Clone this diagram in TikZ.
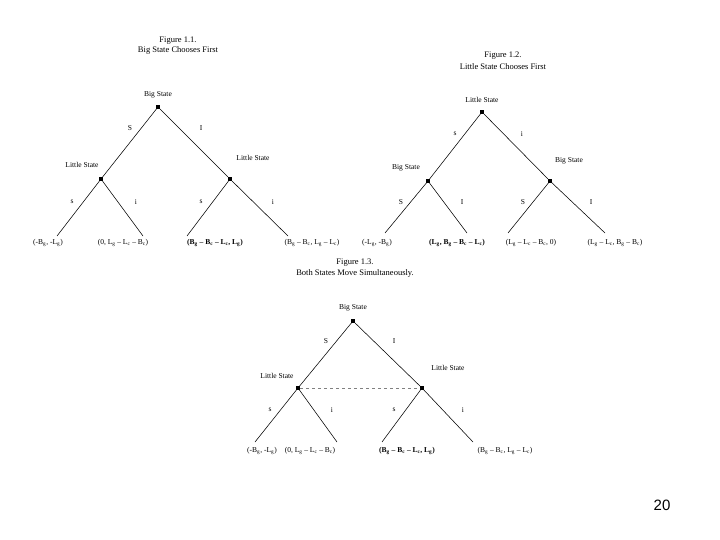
\documentclass[tikz,border=0pt]{standalone}
\usepackage{fontspec}
\setmainfont{Liberation Serif}
\newfontfamily\pagenumfont{Liberation Sans}
\begin{document}
\begin{tikzpicture}[x=1pt,y=-1pt,
  dec/.style={rectangle,fill=black,minimum size=3.6pt,inner sep=0pt},
  txt/.style={font=\fontsize{7.5}{8.5}\selectfont,inner sep=0pt},
  ttl/.style={font=\fontsize{8.5}{9.5}\selectfont,inner sep=0pt},
  pay/.style={font=\fontsize{7.5}{8.5}\selectfont,inner sep=0pt},
  bpay/.style={font=\fontsize{7.5}{8.5}\selectfont\bfseries,inner sep=0pt},
  br/.style={line width=0.55pt},
  info/.style={gray,dashed,line width=0.5pt}]
\useasboundingbox (0,0) rectangle (720,540);
\fill[white] (0,0) rectangle (720,540);
\newcommand{\sbs}[1]{\textsubscript{#1}}

% ---------------- Figure 1.1 ----------------
\node[ttl] (t1a) at (178,41) {Figure 1.1.};
\node[ttl] (t1b) at (178,50) {Big State Chooses First};
\node[dec] (r1) at (158,107) {};
\node[txt] (r1l) at (158,95) {Big State};
\node[dec] (a1) at (101,179) {};
\node[dec] (b1) at (230,179) {};
\node[txt] (a1l) at (82,165) {Little State};
\node[txt] (b1l) at (253,158) {Little State};
\coordinate (l1a) at (57,236);
\coordinate (l1b) at (143,236);
\coordinate (l1c) at (187,236);
\coordinate (l1d) at (288,236);
\draw[br] (r1) -- (a1);
\draw[br] (r1) -- (b1);
\draw[br] (a1) -- (l1a);
\draw[br] (a1) -- (l1b);
\draw[br] (b1) -- (l1c);
\draw[br] (b1) -- (l1d);
\node[txt] (e1a) at (130,128) {S};
\node[txt] (e1b) at (201,128) {I};
\node[txt] (e1c) at (72,202) {s};
\node[txt] (e1d) at (136,202) {i};
\node[txt] (e1e) at (201,202) {s};
\node[txt] (e1f) at (273,202) {i};
\node[pay] (p1a) at (48,243) {(-B\sbs{g}, -L\sbs{g})};
\node[pay] (p1b) at (123,243) {(0, L\sbs{g} – L\sbs{c} – B\sbs{c})};
\node[bpay] (p1c) at (215,243) {(B\sbs{g} – B\sbs{c} – L\sbs{c}, L\sbs{g})};
\node[pay] (p1d) at (312,243) {(B\sbs{g} – B\sbs{c}, L\sbs{g} – L\sbs{c})};

% ---------------- Figure 1.2 ----------------
\node[ttl] (t2a) at (503,56) {Figure 1.2.};
\node[ttl] (t2b) at (503,67) {Little State Chooses First};
\node[dec] (r2) at (482,112) {};
\node[txt] (r2l) at (482,100) {Little State};
\node[dec] (a2) at (428,181) {};
\node[dec] (b2) at (550,181) {};
\node[txt] (a2l) at (406,168) {Big State};
\node[txt] (b2l) at (569,161) {Big State};
\coordinate (l2a) at (385,233);
\coordinate (l2b) at (467,233);
\coordinate (l2c) at (508,233);
\coordinate (l2d) at (605,233);
\draw[br] (r2) -- (a2);
\draw[br] (r2) -- (b2);
\draw[br] (a2) -- (l2a);
\draw[br] (a2) -- (l2b);
\draw[br] (b2) -- (l2c);
\draw[br] (b2) -- (l2d);
\node[txt] (e2a) at (455,134) {s};
\node[txt] (e2b) at (522,134) {i};
\node[txt] (e2c) at (401,202) {S};
\node[txt] (e2d) at (462,202) {I};
\node[txt] (e2e) at (523,202) {S};
\node[txt] (e2f) at (591,202) {I};
\node[pay] (p2a) at (377,243) {(-L\sbs{g}, -B\sbs{g})};
\node[bpay] (p2b) at (457,243) {(L\sbs{g}, B\sbs{g} – B\sbs{c} – L\sbs{c})};
\node[pay] (p2c) at (531,243) {(L\sbs{g} – L\sbs{c} – B\sbs{c}, 0)};
\node[pay] (p2d) at (615,243) {(L\sbs{g} – L\sbs{c}, B\sbs{g} – B\sbs{c})};

% ---------------- Figure 1.3 ----------------
\node[ttl] (t3a) at (355,263) {Figure 1.3.};
\node[ttl] (t3b) at (355,273) {Both States Move Simultaneously.};
\node[dec] (r3) at (353,321) {};
\node[txt] (r3l) at (353,308) {Big State};
\node[dec] (a3) at (298,388) {};
\node[dec] (b3) at (422,388) {};
\node[txt] (a3l) at (277,376) {Little State};
\node[txt] (b3l) at (448,368) {Little State};
\coordinate (l3a) at (255,442);
\coordinate (l3b) at (337,442);
\coordinate (l3c) at (382,442);
\coordinate (l3d) at (473,442);
\draw[br] (r3) -- (a3);
\draw[br] (r3) -- (b3);
\draw[br] (a3) -- (l3a);
\draw[br] (a3) -- (l3b);
\draw[br] (b3) -- (l3c);
\draw[br] (b3) -- (l3d);
\draw[info] (a3) -- (b3);
\node[txt] (e3a) at (326,341) {S};
\node[txt] (e3b) at (394,341) {I};
\node[txt] (e3c) at (270,410) {s};
\node[txt] (e3d) at (332,410) {i};
\node[txt] (e3e) at (394,410) {s};
\node[txt] (e3f) at (463,410) {i};
\node[pay] (p3a) at (262,451) {(-B\sbs{g}, -L\sbs{g})};
\node[pay] (p3b) at (310,451) {(0, L\sbs{g} – L\sbs{c} – B\sbs{c})};
\node[bpay] (p3c) at (407,451) {(B\sbs{g} – B\sbs{c} – L\sbs{c}, L\sbs{g})};
\node[pay] (p3d) at (505,451) {(B\sbs{g} – B\sbs{c}, L\sbs{g} – L\sbs{c})};

% page number
\node[font=\pagenumfont\fontsize{15}{17}\selectfont,inner sep=0pt] (pg) at (662,505) {20};
\end{tikzpicture}
\end{document}
